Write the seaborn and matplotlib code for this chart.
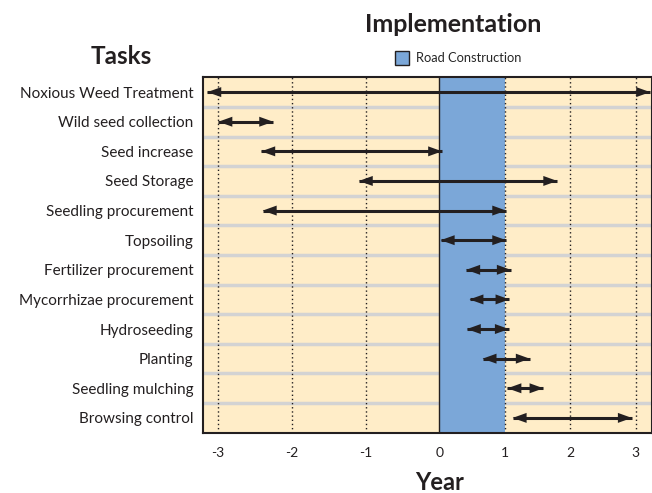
import numpy as np
import matplotlib
matplotlib.use("Agg")
import matplotlib.pyplot as plt
import seaborn as sns
from matplotlib.patches import Patch

sns.set_theme(style="white")
plt.rcParams['font.family'] = ['Lato', 'DejaVu Sans']

tasks = ["Noxious Weed Treatment", "Wild seed collection", "Seed increase",
         "Seed Storage", "Seedling procurement", "Topsoiling",
         "Fertilizer procurement", "Mycorrhizae procurement", "Hydroseeding",
         "Planting", "Seedling mulching", "Browsing control"]
starts = [-3.14, -2.99, -2.41, -1.09, -2.39, 0.02, 0.41, 0.46, 0.42, 0.66, 1.04, 1.12]
ends = [3.22, -2.25, 0.04, 1.80, 1.02, 1.02, 1.09, 1.07, 1.06, 1.38, 1.59, 2.94]
years = [-3, -2, -1, 0, 1, 2, 3]
road = (0, 1)

cream = "#FFEDC8"
blue = "#7BA7D8"
ink = "#231F20"

# years before construction are drawn a bit wider than years after it
def fwd(x):
    x = np.asarray(x, dtype=float)
    return np.where(x < 0, x * 74 / 65.5, x)

def inv(y):
    y = np.asarray(y, dtype=float)
    return np.where(y < 0, y * 65.5 / 74, y)

fig = plt.figure(figsize=(6.52, 4.93), dpi=100)
ax = fig.add_axes([0.3118, 0.1223, 0.6877, 0.7209])
ax.set_facecolor(cream)
ax.set_xscale('function', functions=(fwd, inv))
ax.set_xlim(-3.195, 3.244)
ax.set_ylim(len(tasks) - 0.5, -0.5)

for i in range(len(tasks) - 1):
    ax.axhline(i + 0.5, color="#D3D3D3", lw=2.5, zorder=1)
for yr in years:
    if yr != 0:
        ax.axvline(yr, color=ink, lw=1, ls=(0, (1, 2)), zorder=3 if yr == 1 else 1.5)
ax.axvspan(road[0], road[1], color=blue, lw=0, zorder=2)
ax.axvline(0, color=ink, lw=1, zorder=3)

# shafts, then filled heads (no outline so the tips land on the ends)
rows = np.arange(len(tasks))
ax.hlines(rows, starts, ends, color=ink, lw=2.2, zorder=4)
for i, (s, e) in enumerate(zip(starts, ends)):
    ax.annotate("", xy=(e, i), xytext=(s, i),
                arrowprops=dict(arrowstyle="<|-|>,head_length=1.0,head_width=0.36",
                                facecolor=ink, edgecolor='none', lw=0,
                                mutation_scale=10, shrinkA=0, shrinkB=0),
                zorder=5)

ax.set_xticks(years, [str(y) for y in years])
ax.set_yticks(rows, tasks)
ax.tick_params(axis='x', length=0, pad=10, labelsize=10, labelcolor=ink)
ax.tick_params(axis='y', length=0, pad=7, labelsize=11, labelcolor=ink)
for sp in ax.spines.values():
    sp.set_color(ink)
    sp.set_linewidth(1.5)
    sp.set_zorder(6)

fig.text(121 / 652, 1 - 57 / 493, "Tasks", ha='center', va='center',
         fontsize=17.5, fontweight='bold', color=ink)
fig.text(453 / 652, 1 - 25 / 493, "Implementation", ha='center', va='center',
         fontsize=18, fontweight='bold', color=ink)
fig.text(440 / 652, 1 - 482 / 493, "Year", ha='center', va='center',
         fontsize=17, fontweight='bold', color=ink)

fig.legend(handles=[Patch(facecolor=blue, edgecolor=ink, lw=1)],
           labels=["Road Construction"], loc='center',
           bbox_to_anchor=(458 / 652, 1 - 58 / 493), frameon=False,
           fontsize=9.3, handlelength=1.1, handleheight=1.3, handletextpad=0.5,
           borderpad=0)

fig.savefig("out.png", dpi=100)
